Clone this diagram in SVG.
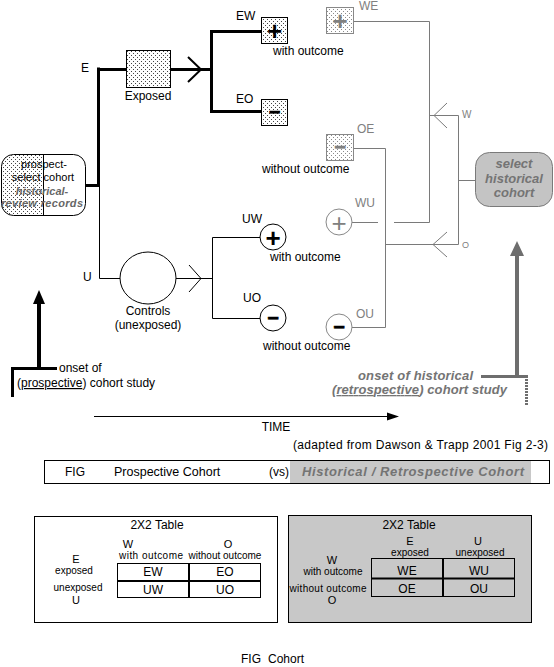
<svg xmlns="http://www.w3.org/2000/svg" width="554" height="667" viewBox="0 0 554 667">
<style>
text{font-family:"Liberation Sans",Arial,sans-serif;font-size:12px;fill:#000}
.c{text-anchor:middle}
.e{text-anchor:end}
.g{fill:#808080}
.bi{font-weight:bold;font-style:italic;fill:#747474;font-size:13px}
.f11{font-size:11px}
.sm{font-size:10px}
.lab{font-size:11px}
.pl{font-weight:bold;text-anchor:middle;font-size:26px}
.mi{font-weight:bold;text-anchor:middle;font-size:20px}
.k3{stroke:#000;stroke-width:3;fill:none}
.k1{stroke:#000;stroke-width:1;fill:none}
.g1{stroke:#7a7a7a;stroke-width:1;fill:none}
.box{fill:url(#dots);stroke:#000;stroke-width:1}
.gbox{fill:url(#gdots);stroke:#888;stroke-width:1}
.circ{fill:#fff;stroke:#000;stroke-width:1}
.gcirc{fill:#fff;stroke:#888;stroke-width:1}
</style>
<defs>
<pattern id="dots" width="4" height="4" patternUnits="userSpaceOnUse">
<rect width="4" height="4" fill="#fff"/>
<rect x="1" y="1" width="1" height="1" fill="#444"/>
<rect x="3" y="3" width="1" height="1" fill="#444"/>
</pattern>
<pattern id="gdots" width="4" height="4" patternUnits="userSpaceOnUse">
<rect width="4" height="4" fill="#fff"/>
<rect x="1" y="1" width="1" height="1" fill="#8a8a8a"/>
<rect x="3" y="3" width="1" height="1" fill="#8a8a8a"/>
</pattern>
</defs>
<rect width="554" height="667" fill="#fff"/>

<g id="connectors">
<path class="k3" d="M85,185.5 H99"/>
<path class="k3" d="M98.5,67.5 V186"/>
<path class="k1" d="M99.5,185 V278.5 H120"/>
<path class="k3" d="M97,69.5 H126"/>
<path class="k3" d="M171,69.5 H210"/>
<path stroke="#000" stroke-width="2" fill="none" d="M188,57 L201,69.5 L188,82"/>
<path class="k3" d="M261,31.5 H211.5 V111.5 H261"/>
<path class="k1" d="M176,278.5 H212"/>
<path class="k1" d="M189,265 L201,278.5 L189,292"/>
<path class="k1" d="M260,237.5 H212.5 V318.5 H260"/>
<path class="g1" d="M353,21.5 H429.5 V222.5 H394"/>
<path class="g1" d="M352,222.5 H378"/>
<path class="g1" d="M429.5,115.5 H458.5 V244.5 H385"/>
<path class="g1" d="M447,103 L434,115.5 L447,128"/>
<path class="g1" d="M447,232 L433,244.5 L447,257"/>
<path class="g1" d="M458.5,180.5 H475"/>
<path class="g1" d="M353,148.5 H385.5 V327.5 H352"/>
<text class="g" x="462" y="118" style="font-size:10px">W</text>
<text class="g" x="462" y="248" style="font-size:9px">O</text>
</g>

<g id="cohort-source">
<rect x="1.5" y="154.5" width="84" height="61" rx="12" fill="#fff"/>
<path d="M43,155 H13.5 A12 12 0 0 0 1.5 167 V203 A12 12 0 0 0 13.5 215 H43 Z" fill="url(#dots)"/>
<rect x="1.5" y="154.5" width="84" height="61" rx="12" fill="none" stroke="#000"/>
<path class="k1" d="M43.5,155 V215"/>
<text class="c f11" x="44" y="168">prospect-</text>
<text class="c f11" x="43" y="181">select cohort</text>
<text class="c bi" x="42" y="195" style="font-size:11px;fill:#666">historical-</text>
<text class="c bi" x="42" y="207" textLength="82" lengthAdjust="spacing" style="font-size:11px;fill:#666">review records</text>
</g>

<g id="exposed">
<text x="81" y="72">E</text>
<rect class="box" x="126.5" y="50.5" width="44" height="37"/>
<text class="c" x="148" y="100">Exposed</text>
</g>

<g id="controls">
<text x="83" y="281">U</text>
<ellipse class="circ" cx="148" cy="278" rx="28" ry="26"/>
<text class="c" x="148" y="315">Controls</text>
<text class="c" x="148" y="329">(unexposed)</text>
</g>

<g id="EW">
<text x="236" y="20">EW</text>
<rect class="box" x="261.5" y="17.5" width="26" height="26"/>
<text class="pl" x="274.5" y="39.5">+</text>
<text x="273" y="55">with outcome</text>
</g>

<g id="EO">
<text x="236" y="103">EO</text>
<rect class="box" x="261.5" y="99.5" width="26" height="26"/>
<text class="mi" x="274.5" y="119" stroke="#000" stroke-width="0.6">−</text>
</g>

<g id="WE">
<rect class="gbox" x="326.5" y="7.5" width="27" height="26"/>
<text class="pl g" x="340" y="29.5">+</text>
<text class="g" x="359" y="10">WE</text>
</g>

<g id="OE">
<text class="g" x="357" y="133">OE</text>
<rect class="gbox" x="326.5" y="134.5" width="27" height="26"/>
<text class="mi g" x="340" y="154" stroke="#808080" stroke-width="0.6">−</text>
<text x="262" y="173">without outcome</text>
</g>

<g id="WU">
<text class="g" x="355" y="207">WU</text>
<circle class="gcirc" cx="339" cy="222" r="13"/>
<text class="pl g" x="339" y="231.5" style="font-weight:normal">+</text>
</g>

<g id="UW">
<text x="242" y="223">UW</text>
<circle class="circ" cx="273" cy="237" r="13"/>
<text class="pl" x="273" y="246.5">+</text>
<text x="270" y="261">with outcome</text>
</g>

<g id="UO">
<text x="243" y="302">UO</text>
<circle class="circ" cx="273" cy="318" r="13"/>
<text class="mi" x="273" y="325" stroke="#000" stroke-width="0.6">−</text>
<text x="263" y="350">without outcome</text>
</g>

<g id="OU">
<text class="g" x="356" y="318">OU</text>
<circle class="gcirc" cx="339" cy="327" r="13"/>
<text class="mi" x="339" y="334" stroke="#000" stroke-width="0.6">−</text>
</g>

<g id="select-historical">
<rect x="475.5" y="152.5" width="77" height="54" rx="14" fill="#c4c4c4" stroke="#7a7a7a"/>
<text class="c bi" x="514" y="168">select</text>
<text class="c bi" x="514" y="183">historical</text>
<text class="c bi" x="514" y="197">cohort</text>
</g>

<g id="prospective-onset">
<path stroke="#000" stroke-width="4" fill="none" d="M39,302 V369"/>
<polygon points="39,290 33,304 45,304" fill="#000"/>
<path class="k3" d="M11,368.5 H57"/>
<path class="k3" d="M12.5,367 V397"/>
<text x="59" y="372">onset of</text>
<text x="17" y="387">(<tspan text-decoration="underline">prospective</tspan>) cohort study</text>
</g>

<g id="historical-onset">
<path stroke="#6e6e6e" stroke-width="4" fill="none" d="M517,254 V377"/>
<polygon points="517,241 510,256 524,256" fill="#6e6e6e"/>
<path stroke="#6e6e6e" stroke-width="3" fill="none" d="M481,376.5 H528"/>
<path stroke="#6e6e6e" stroke-width="3" stroke-dasharray="2 1" fill="none" d="M526.5,376 V405"/>
<text class="bi e" x="473" y="380" textLength="115" lengthAdjust="spacing">onset of historical</text>
<text class="bi" x="332" y="394" textLength="175" lengthAdjust="spacing">(<tspan text-decoration="underline">retrospective</tspan>) cohort study</text>
</g>

<g id="time">
<path class="k1" d="M94,416.5 H390"/>
<polygon points="399,416.5 387,412.5 387,420.5" fill="#000"/>
<text class="c" x="276" y="431">TIME</text>
<text class="e" x="548" y="449" textLength="255" lengthAdjust="spacing">(adapted from Dawson &amp; Trapp 2001 Fig 2-3)</text>
</g>

<g id="fig-bar">
<rect x="44.5" y="460.5" width="505" height="23" fill="#fff" stroke="#000"/>
<rect x="290" y="461" width="241" height="22" fill="#c8c8c8"/>
<text x="65" y="476">FIG</text>
<text x="114" y="476" style="font-size:12.5px">Prospective Cohort</text>
<text x="269" y="476">(vs)</text>
<text class="bi" x="302" y="476" textLength="222" lengthAdjust="spacing">Historical / Retrospective Cohort</text>
</g>

<g id="table-prospective">
<rect x="34.5" y="516.5" width="243" height="106" fill="#fff" stroke="#000"/>
<text class="c" x="157" y="529">2X2 Table</text>
<text class="c lab" x="128" y="548">W</text>
<text class="c sm" x="151" y="559" textLength="64" lengthAdjust="spacing">with outcome</text>
<text class="c lab" x="228" y="548">O</text>
<text class="c sm" x="225" y="559">without outcome</text>
<text class="c lab" x="76" y="563">E</text>
<text class="c sm" x="74" y="573.5">exposed</text>
<text class="c sm" x="78" y="591">unexposed</text>
<text class="c lab" x="76" y="603.5">U</text>
<rect x="117.5" y="563.5" width="143" height="34" fill="none" stroke="#000"/>
<path stroke="#000" stroke-width="2" d="M189,563 V598 M117,581 H261"/>
<text class="c" x="153" y="576">EW</text>
<text class="c" x="225" y="576">EO</text>
<text class="c" x="153" y="594">UW</text>
<text class="c" x="225" y="594">UO</text>
</g>

<g id="table-historical">
<rect x="288.5" y="515.5" width="243" height="107" fill="#c8c8c8" stroke="#000"/>
<text class="c" x="409" y="529">2X2 Table</text>
<text class="c lab" x="410" y="544.5">E</text>
<text class="c sm" x="410" y="555.5">exposed</text>
<text class="c lab" x="478" y="544.5">U</text>
<text class="c sm" x="480" y="555.5">unexposed</text>
<text class="c lab" x="332" y="563.5">W</text>
<text class="c sm" x="333" y="574.5">with outcome</text>
<text class="c sm" x="328" y="592" textLength="77" lengthAdjust="spacing">without outcome</text>
<text class="c lab" x="332" y="604">O</text>
<rect x="371.5" y="558.5" width="143" height="38" fill="none" stroke="#000"/>
<path stroke="#000" stroke-width="2" d="M443,558 V597 M371,578.5 H515"/>
<text class="c" x="407" y="575">WE</text>
<text class="c" x="479" y="575">WU</text>
<text class="c" x="407" y="593">OE</text>
<text class="c" x="479" y="593">OU</text>
</g>

<g id="caption">
<text x="241" y="663">FIG<tspan x="268">Cohort</tspan></text>
</g>
</svg>
